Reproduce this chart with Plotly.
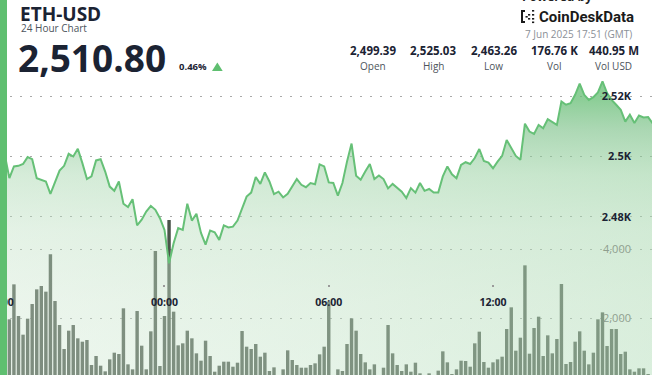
import pandas as pd
import plotly.graph_objects as go

# ---------------- data ----------------
times = pd.date_range("2025-06-06 18:00", periods=144, freq="10min")

prices = [
    2499.5, 2500.5, 2492.8, 2496.7, 2496.9, 2497.5, 2499.8, 2499.1, 2492.8, 2492.3,
    2491.7, 2487.6, 2491.2, 2495.3, 2496.9, 2500.9, 2500.0, 2502.6, 2497.8, 2492.5,
    2493.4, 2498.7, 2499.1, 2495.0, 2490.0, 2488.6, 2491.7, 2484.3, 2483.2, 2485.8,
    2477.1, 2479.0, 2481.7, 2483.6, 2482.3, 2479.5, 2475.6, 2464.5, 2471.2, 2476.2,
    2475.6, 2484.3, 2478.7, 2481.0, 2474.6, 2470.7, 2475.4, 2474.8, 2472.3, 2477.1,
    2476.4, 2476.7, 2478.7, 2482.9, 2486.7, 2488.0, 2493.2, 2490.9, 2494.7, 2491.7,
    2487.5, 2488.3, 2486.4, 2487.6, 2490.0, 2492.5, 2490.6, 2489.8, 2491.2, 2490.8,
    2497.4, 2496.7, 2491.4, 2491.2, 2487.0, 2491.2, 2498.3, 2504.3, 2493.6, 2492.3,
    2495.0, 2497.5, 2492.5, 2493.7, 2492.5, 2489.4, 2490.9, 2489.7, 2488.3, 2486.2,
    2489.5, 2488.0, 2491.2, 2488.6, 2489.2, 2488.0, 2488.0, 2493.4, 2496.7, 2494.1,
    2492.8, 2497.2, 2498.1, 2497.5, 2499.5, 2502.5, 2498.5, 2498.0, 2496.1, 2498.3,
    2500.2, 2505.5, 2502.8, 2500.2, 2498.9, 2510.9, 2508.3, 2507.5, 2510.5, 2509.4,
    2512.4, 2511.3, 2510.5, 2518.3, 2517.2, 2517.7, 2520.5, 2524.2, 2520.5, 2518.8,
    2519.7, 2521.3, 2525.0, 2521.1, 2518.8, 2517.2, 2515.5, 2511.6, 2513.9, 2511.1,
    2513.6, 2513.0, 2513.1, 2511.0,
]

volumes = [
    1500, 1189, 1962, 2976, 2058, 1517, 1981, 2406, 2831, 2928,
    2764, 3846, 2493, 1797, 1102, 1633, 1797, 1411, 1314, 1363,
    638, 899, 618, 454, 802, 995, 957, 2281, 657, 512,
    2203, 1198, 512, 1614, 3943, 609, 2058, 4841, 2184, 1208,
    1266, 1633, 1411, 976, 763, 1343, 899, 444, 618, 734,
    734, 589, 705, 1623, 1169, 1102, 1247, 879, 995, 464,
    570, 150, 512, 1063, 783, 638, 560, 560, 638, 686,
    947, 1169, 2474, 120, 512, 464, 1247, 1990, 1633, 957,
    715, 512, 657, 150, 560, 1797, 976, 638, 464, 657,
    444, 705, 396, 150, 396, 120, 474, 1034, 715, 377,
    512, 763, 754, 589, 1266, 1604, 725, 560, 715, 802,
    879, 1681, 2310, 1053, 1430, 3527, 966, 1710, 2039, 899,
    1498, 976, 1392, 2986, 667, 725, 1314, 1614, 1053, 657,
    995, 1962, 2164, 1189, 1681, 1681, 957, 1024, 512, 444,
    541, 541, 377, 300,
]

price_ticks = [2480, 2500, 2520]
price_tick_labels = ["2.48K", "2.5K", "2.52K"]
volume_ticks = [2000, 4000]
time_ticks = ["2025-06-06 18:00", "2025-06-07 00:00", "2025-06-07 06:00", "2025-06-07 12:00"]
time_tick_labels = ["18:00", "00:00", "06:00", "12:00"]

stat_values = ["2,499.39", "2,525.03", "2,463.26", "176.76 K", "440.95 M"]
stat_labels = ["Open", "High", "Low", "Vol", "Vol USD"]

# ---------------- geometry helpers ----------------
W, H = 652, 375
FONT = "Open Sans"
DARK = "#1b2333"
GREEN = "#5fbf70"


def px(x):
    return x / W


def py(y):
    return 1 - y / H


PRICE_MIN, PRICE_MAX = 2427.4, 2552.0
VOL_MIN, VOL_MAX = 348, 11219

fig = go.Figure()

# volume bars (underneath the translucent price fill)
fig.add_trace(go.Bar(
    x=times, y=volumes, yaxis="y", xaxis="x",
    marker=dict(color="rgb(74,83,74)", line=dict(width=0)),
    hoverinfo="skip",
))

# horizontal tint of the price area (greener toward the right)
fig.add_trace(go.Scatter(
    x=times, y=prices, yaxis="y2", xaxis="x",
    mode="lines",
    line=dict(width=0, color="rgba(0,0,0,0)"),
    fill="tozeroy",
    fillgradient=dict(
        type="horizontal",
        colorscale=[
            [0.0, "rgba(95,188,112,0)"],
            [0.5, "rgba(95,188,112,0.09)"],
            [1.0, "rgba(95,188,112,0.2)"],
        ],
    ),
    hoverinfo="skip",
))

# price area + line
fig.add_trace(go.Scatter(
    x=times, y=prices, yaxis="y2", xaxis="x",
    mode="lines",
    line=dict(color="#66c077", width=2),
    fill="tozeroy",
    fillgradient=dict(
        type="vertical",
        start=PRICE_MIN,
        stop=PRICE_MAX,
        colorscale=[
            [0.0, "rgba(210,234,213,0.38)"],
            [0.2, "rgba(205,230,207,0.40)"],
            [0.387, "rgba(191,224,195,0.42)"],
            [0.533, "rgba(164,213,171,0.45)"],
            [0.653, "rgba(128,194,140,0.55)"],
            [0.733, "rgba(105,191,119,0.70)"],
            [1.0, "rgba(86,184,105,0.80)"],
        ],
    ),
    hoverinfo="skip",
))

grid = dict(showgrid=True, gridcolor="#a9a9a9", gridwidth=1, griddash="2px,8px")

fig.update_layout(
    width=W, height=H,
    margin=dict(l=0, r=0, t=0, b=0, autoexpand=False),
    paper_bgcolor="white", plot_bgcolor="white",
    showlegend=False,
    bargap=0.25,
    font=dict(family=FONT),
    xaxis=dict(
        type="date",
        range=["2025-06-06 17:59:28", "2025-06-07 17:48:30"],
        tickvals=time_ticks, ticktext=time_tick_labels,
        anchor="free", position=(H - 284) / H,
        showgrid=False, showline=False, zeroline=False,
        ticks="outside", ticklen=2, tickwidth=2, tickcolor="#9a9a9a",
        tickfont=dict(family=FONT, size=10.5, color=DARK, weight="bold"),
        ticklabelstandoff=6,
        ticklabeloverflow="allow",
        automargin=False,
    ),
    yaxis=dict(
        range=[VOL_MIN, VOL_MAX],
        side="right",
        tickvals=volume_ticks, tickformat=",",
        ticklabelposition="inside",
        ticklabelstandoff=18,
        tickfont=dict(family=FONT, size=11, color="#8e9e8e"),
        zeroline=False, showline=False,
        automargin=False,
        **grid,
    ),
    yaxis2=dict(
        range=[PRICE_MIN, PRICE_MAX],
        overlaying="y", side="right",
        tickvals=price_ticks, ticktext=price_tick_labels,
        ticklabelposition="inside",
        ticklabelstandoff=18,
        tickfont=dict(family=FONT, size=11, color=DARK, weight="bold"),
        zeroline=False, showline=False,
        automargin=False,
        **grid,
    ),
)

annotations = [
    dict(text="<b>ETH-USD</b>", x=px(18), y=py(13.5), xanchor="left", yanchor="middle",
         font=dict(size=19, color=DARK)),
    dict(text="24 Hour Chart", x=px(18.5), y=py(28.5), xanchor="left", yanchor="middle",
         font=dict(size=10, color="#4d545c")),
    dict(text="<b>2,510.80</b>", x=px(16), y=py(57.5), xanchor="left", yanchor="middle",
         font=dict(size=37, color=DARK)),
    dict(text="<b>0.46%</b>", x=px(177), y=py(66.5), xanchor="left", yanchor="middle",
         font=dict(size=9.5, color=DARK)),
    dict(text="<b>Powered by</b>", x=px(520), y=py(-3), xanchor="left", yanchor="middle",
         font=dict(size=12, color="#222")),
    dict(text="<b>CoinDeskData</b>", x=px(536.5), y=py(16.5), xanchor="left", yanchor="middle",
         font=dict(family="Roboto", size=15, color="#1a1a1a")),
    dict(text="7 Jun 2025 17:51 (GMT)", x=px(634), y=py(34.3), xanchor="right", yanchor="middle",
         font=dict(size=10, color="#8b9097")),
]
stat_centers = [372.8, 433.3, 493.5, 554.5, 613.5]
for cx, v, lab in zip(stat_centers, stat_values, stat_labels):
    annotations.append(dict(text=f"<b>{v}</b>", x=px(cx), y=py(50.7), xanchor="center",
                            yanchor="middle", font=dict(size=11.5, color=DARK)))
    annotations.append(dict(text=lab, x=px(cx), y=py(65.8), xanchor="center",
                            yanchor="middle", font=dict(size=10, color="#4d545c")))
for a in annotations:
    a.update(xref="paper", yref="paper", showarrow=False)
fig.update_layout(annotations=annotations)

shapes = [
    # left accent bar
    dict(type="rect", xref="paper", yref="paper", x0=0, x1=px(7), y0=0, y1=1,
         fillcolor=GREEN, line=dict(width=0), layer="above"),
    # up triangle
    dict(type="path", xref="paper", yref="paper",
         path=f"M {px(212)},{py(71)} L {px(222.7)},{py(71)} L {px(217.35)},{py(62.5)} Z",
         fillcolor=GREEN, line=dict(width=0), layer="above"),
    # logo icon: bracket
    dict(type="path", xref="paper", yref="paper",
         path=(f"M {px(525)},{py(10)} L {px(521)},{py(10)} L {px(521)},{py(23)} "
               f"L {px(525)},{py(23)} L {px(525)},{py(21)} L {px(523)},{py(21)} "
               f"L {px(523)},{py(12)} L {px(525)},{py(12)} Z"),
         fillcolor="#1a1a1a", line=dict(width=0), layer="above"),
]
for dx, dy in [(532, 10), (532, 14), (532, 18), (532, 21.5), (528, 14), (528, 18), (525.5, 16)]:
    shapes.append(dict(type="rect", xref="paper", yref="paper",
                       x0=px(dx), x1=px(dx + 2.2), y0=py(dy + 1.6), y1=py(dy),
                       fillcolor="#1a1a1a", line=dict(width=0), layer="above"))
fig.update_layout(shapes=shapes)

fig.write_html(
    "out.html",
    config={"displayModeBar": False},
    post_script="document.body.style.margin='0';document.body.style.overflow='hidden';",
)
